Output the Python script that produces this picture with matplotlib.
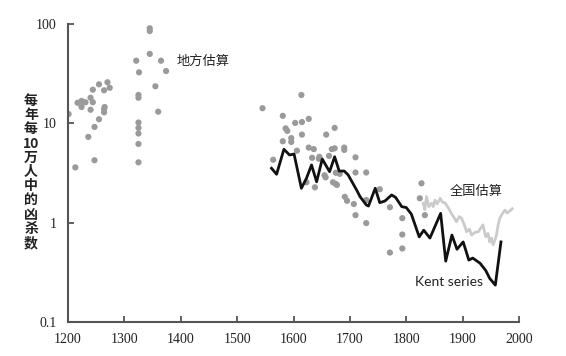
import matplotlib
matplotlib.use("Agg")
import matplotlib.pyplot as plt
from matplotlib.ticker import FixedLocator, NullLocator

# ---- data ----
local_years = [1201, 1213, 1247, 1236, 1247, 1255, 1240, 1264, 1264, 1265, 1217, 1224, 1227, 1224,
               1231, 1240, 1244, 1244, 1255, 1270, 1274, 1264,
               1345, 1345, 1345, 1321, 1365, 1326, 1374, 1355, 1325, 1325, 1360, 1325, 1325, 1325,
               1325, 1325,
               1614, 1545, 1581, 1603, 1615, 1627, 1586, 1589, 1615, 1658, 1673, 1596, 1596, 1581,
               1606, 1627, 1636, 1668, 1673, 1690, 1690, 1564, 1633, 1645, 1646, 1663, 1710, 1655,
               1657, 1670, 1675, 1677, 1623, 1638, 1675, 1682, 1710, 1729, 1691, 1695, 1707, 1710,
               1729, 1753, 1729, 1771, 1793, 1793, 1793, 1771, 1827, 1824, 1833]
local_vals = [12.4, 3.6, 4.25, 7.3, 9.2, 11.0, 13.7, 13.9, 12.9, 14.6, 16.1, 16.8, 16.3, 14.6,
              16.3, 18.1, 16.3, 21.8, 24.7, 25.9, 22.8, 21.5,
              90.6, 85.0, 50.0, 42.7, 42.7, 32.6, 33.6, 23.6, 19.3, 18.1, 13.1, 10.2, 9.0, 7.9,
              6.2, 4.05,
              19.3, 14.2, 11.9, 10.1, 10.3, 11.1, 8.9, 8.4, 7.7, 7.7, 9.0, 7.1, 6.5, 6.6,
              5.3, 5.7, 5.5, 5.5, 5.6, 5.7, 5.4, 4.3, 4.5, 4.4, 4.6, 4.7, 4.55, 3.0,
              2.86, 2.55, 2.45, 2.4, 2.55, 2.27, 3.18, 3.1, 3.2, 3.2, 1.82, 1.66, 1.54, 1.19,
              0.99, 2.17, 1.69, 1.43, 1.11, 0.76, 0.55, 0.50, 2.49, 1.76, 1.19]

kent_years = [1561, 1570, 1583, 1593, 1601, 1614, 1623, 1632, 1641, 1651, 1664, 1673, 1681, 1690,
              1697, 1712, 1718, 1729, 1733, 1745, 1753, 1762, 1774, 1781, 1792, 1800, 1809, 1823,
              1831, 1842, 1861, 1870, 1881, 1890, 1901, 1911, 1918, 1931, 1941, 1948, 1958, 1968]
kent_vals = [3.53, 3.07, 5.48, 4.80, 4.91, 2.22, 2.80, 3.81, 2.58, 4.37, 3.26, 4.61, 3.31, 3.31,
             3.02, 2.13, 1.83, 1.51, 1.47, 2.22, 1.59, 1.65, 1.90, 1.80, 1.45, 1.42, 1.22, 0.72,
             0.84, 0.70, 1.24, 0.41, 0.75, 0.54, 0.64, 0.42, 0.44, 0.39, 0.33, 0.275, 0.235, 0.64]

nat_years = [1830, 1833, 1836, 1840, 1845, 1848, 1851, 1855, 1860, 1864, 1869, 1875, 1880, 1885,
             1889, 1894, 1898, 1903, 1907, 1912, 1916, 1922, 1928, 1932, 1936, 1939, 1941, 1945,
             1948, 1951, 1954, 1957, 1960, 1963, 1966, 1970, 1975, 1979, 1984, 1988]
nat_vals = [1.57, 1.35, 1.83, 1.45, 1.57, 1.45, 1.69, 1.55, 1.76, 1.62, 1.57, 1.40, 1.24, 1.12,
            1.02, 1.15, 1.11, 0.95, 0.81, 0.86, 0.75, 0.80, 0.81, 0.88, 0.95, 0.80, 0.72, 0.78,
            0.64, 0.70, 0.60, 0.66, 0.75, 0.95, 1.11, 1.22, 1.34, 1.25, 1.32, 1.38]

x_ticks = [1200, 1300, 1400, 1500, 1600, 1700, 1800, 1900, 2000]
y_ticks = [0.1, 1, 10, 100]
y_ticklabels = ["0.1", "1", "10", "100"]
ylabel_text = "每\n年\n每\n10\n万\n人\n中\n的\n凶\n杀\n数"

# ---- plot ----
plt.rcParams['font.family'] = ['Noto Sans CJK SC', 'DejaVu Sans']
fig = plt.figure(figsize=(5.66, 3.56), dpi=100)
ax = fig.add_axes([68 / 566, 34 / 356, 451 / 566, 298 / 356])

ax.scatter(local_years, local_vals, s=20, color="#9a9a9a", edgecolors="none", zorder=2)
ax.plot(nat_years, nat_vals, color="#cbcbcb", lw=2.0, zorder=3)
ax.plot(kent_years, kent_vals, color="#111111", lw=2.0, zorder=4)

ax.set_yscale("log")
ax.set_xlim(1200, 2000)
ax.set_ylim(0.1, 100)
ax.yaxis.set_major_locator(FixedLocator(y_ticks))
ax.yaxis.set_minor_locator(NullLocator())
ax.set_yticks(y_ticks)
ax.set_yticklabels(y_ticklabels)
ax.set_xticks(x_ticks)

for s in ["top", "right"]:
    ax.spines[s].set_visible(False)
for s in ["left", "bottom"]:
    ax.spines[s].set_color("#555555")
    ax.spines[s].set_linewidth(1.5)
ax.tick_params(direction="in", length=4, width=1.3, color="#555555", labelsize=10, pad=8)
for lab in ax.get_xticklabels() + ax.get_yticklabels():
    lab.set_family("Liberation Serif")
    lab.set_color("#222222")

fig.text(31 / 566, 1 - 172 / 356, ylabel_text, ha="center", va="center", fontsize=10,
         linespacing=1.02, fontweight="bold", color="#222222")

ax.text(1393, 42, "地方估算", fontsize=9.5, color="#222222", va="center", ha="left")
ax.text(1877, 2.04, "全国估算", fontsize=9.5, color="#222222", va="center", ha="left")
ax.text(1815, 0.25, "Kent series", fontsize=10, color="#222222", va="center", ha="left",
        family="Lato")

fig.savefig("out.png", dpi=100)
